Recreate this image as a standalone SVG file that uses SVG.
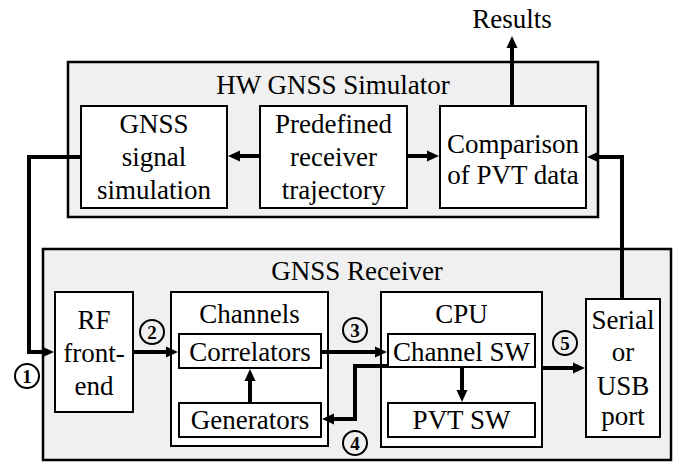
<svg xmlns="http://www.w3.org/2000/svg" width="678" height="463" viewBox="0 0 678 463">
  <defs>
    <style>
      .group { fill: #f0f0f0; stroke: #000; stroke-width: 2.5; }
      .block { fill: #fff; stroke: #000; stroke-width: 2; }
      .link { fill: none; stroke: #000; stroke-width: 4; stroke-linejoin: miter; marker-end: url(#head); }
      .tag circle { fill: none; stroke: #000; stroke-width: 2; }
    </style>
    <marker id="head" markerUnits="userSpaceOnUse" markerWidth="12" markerHeight="12" viewBox="0 0 12 12" refX="2" refY="6" orient="auto">
      <path d="M0,0.5 L12,6 L0,11.5 Z" fill="#000"/>
    </marker>
  </defs>

  <g font-family="Liberation Serif, serif" font-size="27" text-anchor="middle" fill="#000">
    <!-- HW GNSS Simulator -->
    <g id="simulator">
      <rect class="group" x="68" y="62" width="530" height="155"/>
      <text x="333" y="94">HW GNSS Simulator</text>
    </g>
    <g id="signal-simulation">
      <rect class="block" x="81" y="106" width="146" height="102"/>
      <text x="154" y="133">GNSS</text>
      <text x="154" y="166">signal</text>
      <text x="154" y="199">simulation</text>
    </g>
    <g id="trajectory">
      <rect class="block" x="260" y="106" width="147" height="102"/>
      <text x="333.5" y="133">Predefined</text>
      <text x="333.5" y="166">receiver</text>
      <text x="333.5" y="199">trajectory</text>
    </g>
    <g id="comparison">
      <rect class="block" x="440" y="106" width="146" height="102"/>
      <text x="513" y="153">Comparison</text>
      <text x="513" y="184">of PVT data</text>
    </g>
    <g id="results">
      <text x="512" y="28">Results</text>
    </g>

    <!-- GNSS Receiver -->
    <g id="receiver">
      <rect class="group" x="43" y="249" width="628" height="211"/>
      <text x="357" y="280">GNSS Receiver</text>
    </g>
    <g id="rf-frontend">
      <rect class="block" x="55" y="292" width="78" height="120"/>
      <text x="94" y="329">RF</text>
      <text x="94" y="362">front-</text>
      <text x="94" y="395">end</text>
    </g>
    <g id="channels">
      <rect class="block" x="171" y="292" width="157" height="154"/>
      <text x="249.5" y="323">Channels</text>
    </g>
    <g id="correlators">
      <rect class="block" x="179" y="334" width="142" height="34"/>
      <text x="250" y="361">Correlators</text>
    </g>
    <g id="generators">
      <rect class="block" x="179" y="403" width="142" height="34"/>
      <text x="250" y="429">Generators</text>
    </g>
    <g id="cpu">
      <rect class="block" x="381" y="292" width="161" height="155"/>
      <text x="461.5" y="323">CPU</text>
    </g>
    <g id="channel-sw">
      <rect class="block" x="388" y="334" width="147" height="33"/>
      <text x="461.5" y="361">Channel SW</text>
    </g>
    <g id="pvt-sw">
      <rect class="block" x="388" y="403" width="147" height="34"/>
      <text x="461.5" y="429">PVT SW</text>
    </g>
    <g id="serial-port">
      <rect class="block" x="586" y="299" width="74" height="138"/>
      <text x="623" y="329">Serial</text>
      <text x="623" y="361">or</text>
      <text x="623" y="395">USB</text>
      <text x="623" y="425">port</text>
    </g>

    <!-- Connectors -->
    <g id="connectors">
      <line class="link" x1="260" y1="156" x2="238" y2="156"/>
      <line class="link" x1="407" y1="156" x2="429" y2="156"/>
      <line class="link" x1="512" y1="106" x2="512" y2="46"/>
      <path class="link" d="M81,157 H29 V352 H44"/>
      <line class="link" x1="133" y1="352" x2="168" y2="352"/>
      <line class="link" x1="250" y1="403" x2="250" y2="379"/>
      <line class="link" x1="321" y1="352" x2="377" y2="352"/>
      <path class="link" d="M388,366 H355 V419 H332"/>
      <line class="link" x1="462" y1="367" x2="462" y2="392"/>
      <line class="link" x1="542" y1="368" x2="575" y2="368"/>
      <path class="link" d="M622,299 V157 H597"/>
    </g>

    <!-- Numbered test points -->
    <g id="tags" font-size="19" font-weight="bold">
      <g class="tag"><circle cx="27" cy="376" r="12"/><text x="27" y="383">1</text></g>
      <g class="tag"><circle cx="152" cy="332" r="12"/><text x="152" y="339">2</text></g>
      <g class="tag"><circle cx="355" cy="330" r="12"/><text x="355" y="337">3</text></g>
      <g class="tag"><circle cx="355" cy="443" r="12"/><text x="355" y="450">4</text></g>
      <g class="tag"><circle cx="565" cy="343" r="12"/><text x="565" y="350">5</text></g>
    </g>
  </g>
</svg>
